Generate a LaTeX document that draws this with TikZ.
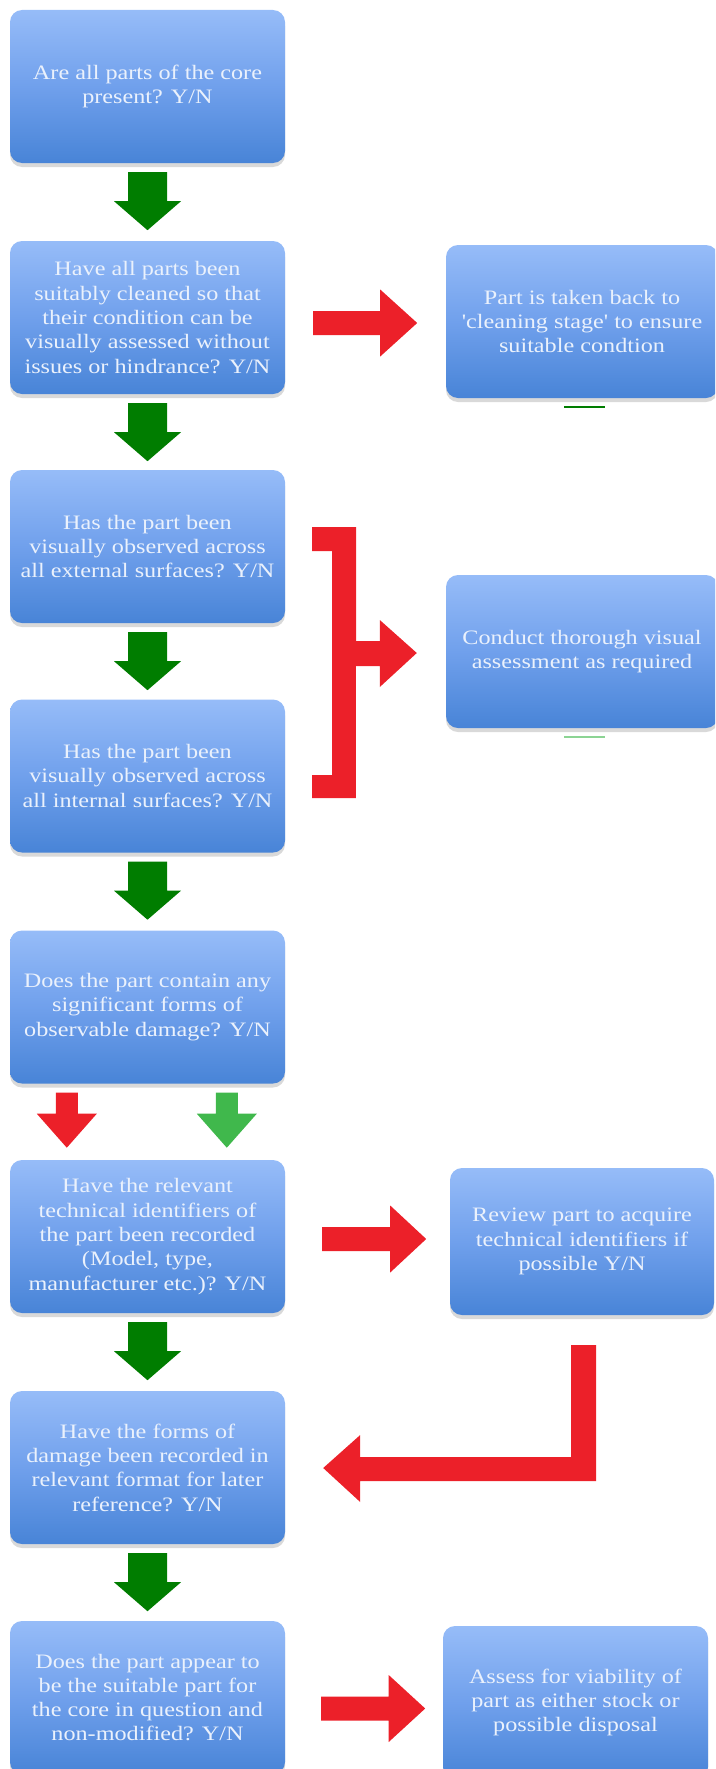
\documentclass[tikz,border=0pt]{standalone}
\usepackage{fontspec}
\newfontfamily\boxfont{Liberation Serif}[FakeStretch=1.18]
\usetikzlibrary{calc,shadows}

\definecolor{boxtop}{RGB}{150,188,248}
\definecolor{boxmid}{RGB}{112,160,236}
\definecolor{boxbot}{RGB}{72,132,215}
\definecolor{goodgreen}{RGB}{0,125,0}
\definecolor{palegreen}{RGB}{64,184,76}
\definecolor{stopred}{RGB}{236,32,41}
\definecolor{boxtext}{RGB}{234,241,252}

% downward block arrow: top centre, colour, shaft half-width, head half-width, shaft length, head length
\newcommand\downblock[6]{%
  \fill[#2] (#1) ++(-#3,0) -- ++({2*#3},0) -- ++(0,#5) -- ++({#4-#3},0)
    -- ++({-#4},#6) -- ++({-#4},{-#6}) -- ++({#4-#3},0) -- cycle;}
% rightward block arrow: left end (mid-height), colour, shaft half-height, head half-height, shaft length, head length
\newcommand\rightblock[6]{%
  \fill[#2] (#1) ++(0,-#3) -- ++(#5,0) -- ++(0,{#3-#4}) -- ++(#6,#4)
    -- ++(-#6,#4) -- ++(0,{#3-#4}) -- ++(-#5,0) -- cycle;}

\tikzset{
  stepbox/.style={rounded corners=12pt, minimum width=275pt, minimum height=153pt,
    inner sep=0pt, top color=boxtop, bottom color=boxbot, middle color=boxmid,
    drop shadow={opacity=0.3, shadow xshift=0pt, shadow yshift=-4pt},
    text=boxtext, align=center,
    font=\boxfont\fontsize{20.5pt}{24.3pt}\selectfont},
}

\begin{document}
\begin{tikzpicture}[x=1pt, y=-1pt]
\useasboundingbox (0,0) rectangle (715,1769);
\clip (0,0) rectangle (715,1769);

% main column of questions
\node[stepbox] (b1) at (147.5,86.5)  {Are all parts of the core\\present? Y/N};
\node[stepbox] (b2) at (147.5,317.5) {Have all parts been\\suitably cleaned so that\\their condition can be\\visually assessed without\\issues or hindrance? Y/N};
\node[stepbox] (b3) at (147.5,546.5) {Has the part been\\visually observed across\\all external surfaces? Y/N};
\node[stepbox] (b4) at (147.5,776)   {Has the part been\\visually observed across\\all internal surfaces? Y/N};
\node[stepbox] (b5) at (147.5,1007)  {Does the part contain any\\significant forms of\\observable damage? Y/N};
\node[stepbox] (b6) at (147.5,1236.5) {Have the relevant\\technical identifiers of\\the part been recorded\\(Model, type,\\manufacturer etc.)? Y/N};
\node[stepbox] (b7) at (147.5,1467.5) {Have the forms of\\damage been recorded in\\relevant format for later\\reference? Y/N};
\node[stepbox] (b8) at (147.5,1697.5) {Does the part appear to\\be the suitable part for\\the core in question and\\non-modified? Y/N};

% actions on the right
\node[stepbox, minimum width=272pt] (r1) at (582,321.5) {Part is taken back to\\'cleaning stage' to ensure\\suitable condtion};
\node[stepbox, minimum width=272pt] (r2) at (582,651.5) {Conduct thorough visual\\assessment as required};
\node[stepbox, minimum width=264pt, minimum height=147pt] (r3) at (582,1241.5) {Review part to acquire\\technical identifiers if\\possible Y/N};
\node[stepbox, minimum width=265pt] (r4) at (575.5,1702.5) {Assess for viability of\\part as either stock or\\possible disposal};

% green arrows down the main column
\downblock{$(b1.south)+(0,9)$}{goodgreen}{19.5}{33.5}{29}{29}
\downblock{$(b2.south)+(0,9)$}{goodgreen}{19.5}{33.5}{29}{29}
\downblock{$(b3.south)+(0,9)$}{goodgreen}{19.5}{33.5}{29}{29}
\downblock{$(b4.south)+(0,9)$}{goodgreen}{19.5}{33.5}{29}{29}
\downblock{$(b6.south)+(0,9)$}{goodgreen}{19.5}{33.5}{29}{29}
\downblock{$(b7.south)+(0,9)$}{goodgreen}{19.5}{33.5}{29}{29}

% yes / no pair under the damage question
\downblock{$(b5.south west)+(57,9)$}{stopred}{11}{30}{21}{34}
\downblock{$(b5.south west)+(217,9)$}{palegreen}{11}{30}{21}{34}

% red arrows to the actions
\rightblock{$(b2.east)+(28,5.5)$}{stopred}{12}{33.5}{67}{37}
\rightblock{$(b6.east)+(37,2.5)$}{stopred}{12}{33.5}{68}{36}
\rightblock{$(b8.east)+(36,11)$}{stopred}{12}{33.5}{67.5}{36.5}

% bracket joining the two observation questions
\coordinate (brtop) at ($(b3.east)+(27,-19.5)$);
\coordinate (brbot) at ($(b4.east)+(27,22)$);
\coordinate (brtip) at ($(r2.west)+(-29,1.5)$);
\fill[stopred] (brtop) -- ++(44,0) |- ($(brtip)+(-37,-12)$) -- ++(0,-21) -- (brtip)
  -- ($(brtip)+(-37,34)$) -- ++(0,-21) -- ++(-24,0) |- (brbot) -- ++(0,-23)
  -- ++(20,0) |- ($(brtop)+(0,24)$) -- cycle;

% return path from the review step
\coordinate (ltop) at ($(r3.south)+(-11,30)$);
\coordinate (ltip) at ($(b7.east)+(38,0.5)$);
\fill[stopred] (ltop) -- ++(25,0) |- ($(ltip)+(37,13)$) -- ++(0,21) -- (ltip)
  -- ($(ltip)+(37,-33)$) -- ++(0,22) -| (ltop) -- cycle;

% short green strokes under the first two actions
\draw[goodgreen, line width=2.5pt] ($(r1.south)+(-18,9)$) -- ++(41,0);
\draw[palegreen, line width=1.5pt, opacity=0.6] ($(r2.south)+(-18,9)$) -- ++(41,0);
\end{tikzpicture}
\end{document}
